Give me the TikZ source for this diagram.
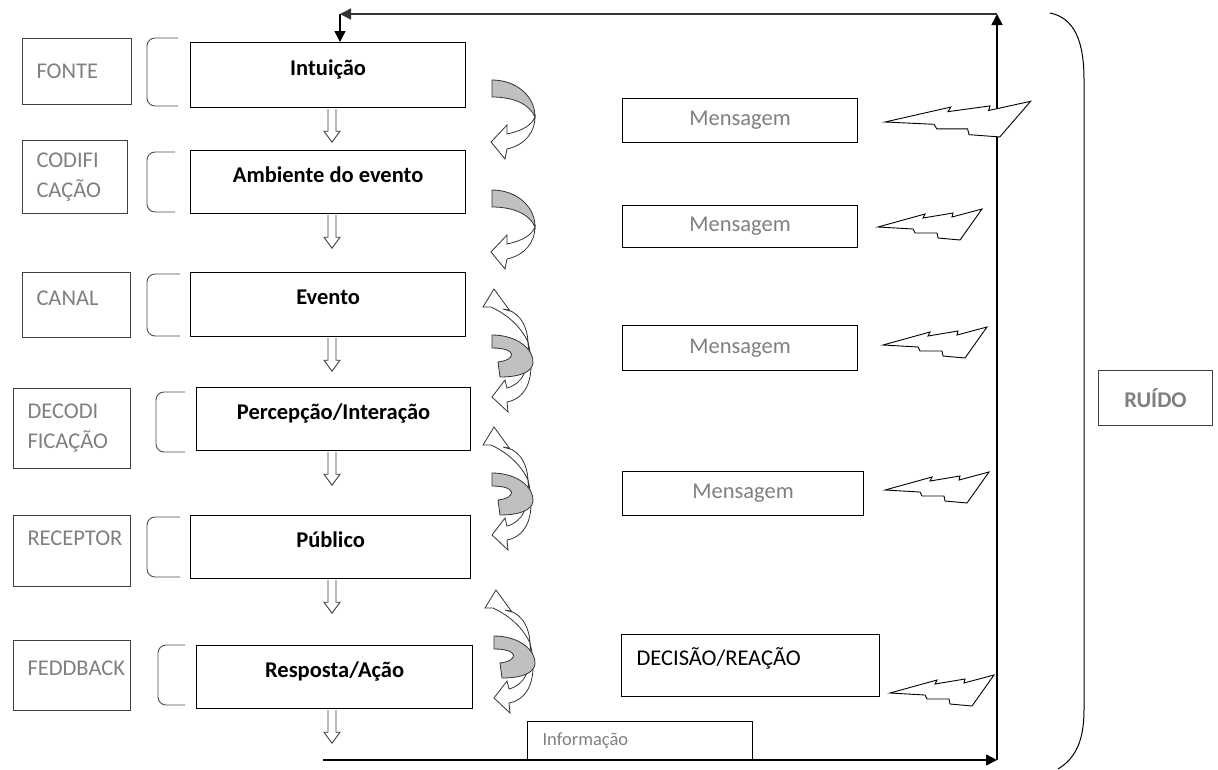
\documentclass[tikz,border=0pt]{standalone}
\usepackage{fontspec}
\setmainfont{Carlito}
\usetikzlibrary{arrows.meta}
\definecolor{tagtext}{RGB}{127,127,127}
\definecolor{bandgray}{RGB}{192,192,192}
\tikzset{
	every node/.style={font=\fontsize{22.5}{30}\selectfont},
	single/.style={text height=11pt, text depth=11pt},
	tagbox/.style={draw=black!75, line width=1pt, anchor=north west, inner xsep=14pt, inner ysep=0pt, align=left, text=tagtext},
	mainbox/.style={draw, line width=1.2pt, anchor=north west, inner sep=0pt, single, font=\fontsize{22.5}{30}\selectfont\bfseries},
	msgbox/.style={draw, line width=1.1pt, anchor=north west, inner sep=0pt, text=tagtext},
	brace/.style={draw=black!70, line width=0.9pt, rounded corners=8pt},
	hollow/.style={draw=black!75, line width=0.9pt, fill=white, line join=miter},
	sheet/.style={draw=black!80, line width=0.8pt, fill=white},
	band/.style={draw=black!80, line width=0.8pt, fill=bandgray},
	bolt/.style={draw, line width=0.9pt, fill=white, line join=miter},
	flow/.style={line width=1.5pt, -{Triangle[length=11pt,width=11pt]}}
}
\newcommand\flowdown[1]{\draw[hollow] ([yshift=-1pt]332,0 |- #1.south) ++(-4,0) -- ++(0,22) -- ++(-4,0) -- ++(8,11) -- ++(8,-11) -- ++(-4,0) -- ++(0,-22);}
\newcommand\swirlA[1]{\begin{scope}[shift={#1}]
	\draw[band] (12,10) .. controls (35,10) and (55,25) .. (55,47) .. controls (50,35) and (35,27) .. (12,27) -- cycle;
	\draw[sheet] (55,47) .. controls (55,62) and (45,75) .. (27,79) -- (25,89) -- (11,72) -- (27,55) -- (27,64) .. controls (42,61) and (52,55) .. (55,47) -- cycle;
\end{scope}}
\newcommand\swirlB[1]{\begin{scope}[shift={#1}]
	\draw[sheet] (48,62) .. controls (47,42) and (36,30) .. (23,29) -- (30,31) -- (14,9) -- (3,27) -- (11,27) .. controls (26,34) and (40,45) .. (48,62) -- cycle;
	\draw[sheet] (48,62) .. controls (50,90) and (42,104) .. (27,108) -- (25,100) -- (12,117) -- (28,132) -- (27,122) .. controls (48,118) and (56,95) .. (48,62) -- cycle;
	\draw[band] (12,55) .. controls (38,55) and (54,70) .. (53,83) .. controls (52,92) and (40,97) .. (20,97) -- (18,82) .. controls (36,80) and (38,68) .. (12,68) -- cycle;
\end{scope}}
\newcommand\bolt[2][]{\draw[bolt, shift={#2}, #1] (0,0) -- (47,-13) -- (45,-9) -- (75,-14) -- (74,-10) -- (104,-18) -- (82,13) -- (60,11) -- (59,6) -- (37,6) -- (35,2) -- cycle;}

\begin{document}
\begin{tikzpicture}[x=1pt,y=-1pt]
	\useasboundingbox (0,0) rectangle (1218,769);
	% left column
	\node[tagbox, text width=81pt, minimum height=66pt] (fonte) at (22,38) {FONTE};
	\node[tagbox, text width=77pt, minimum height=73pt] (codif) at (22,140) {CODIFI\\CAÇÃO};
	\node[tagbox, single, text width=80pt, minimum height=65pt] (canal) at (22,272) {CANAL};
	\node[tagbox, text width=89pt, minimum height=80pt] (decod) at (13,388) {DECODI\\FICAÇÃO};
	\node[tagbox, text height=11pt, text depth=23pt, text width=89pt, minimum height=71pt] (recep) at (13,515) {RECEPTOR};
	\node[tagbox, single, text width=89pt, minimum height=70pt] (feedb) at (13,640) {FEDDBACK};
	\draw[brace] (178,38) -- (147,38) -- (147,106) -- (178,106);
	\draw[brace] (175,152) -- (147,152) -- (147,212) -- (175,212);
	\draw[brace] (180,274) -- (147,274) -- (147,336) -- (180,336);
	\draw[brace] (185,392) -- (156,392) -- (156,452) -- (185,452);
	\draw[brace] (180,517) -- (147,517) -- (147,577) -- (180,577);
	\draw[brace] (185,645) -- (158,645) -- (158,705) -- (185,705);
	% steps
	\node[mainbox, minimum width=275pt, minimum height=65pt] (intu) at (190,42) {Intuição};
	\node[mainbox, minimum width=275pt, minimum height=63pt] (amb) at (190,150) {Ambiente do evento};
	\node[mainbox, minimum width=275pt, minimum height=64pt] (evt) at (190,272) {Evento};
	\node[mainbox, minimum width=274pt, minimum height=63pt] (perc) at (196,387) {Percepção/Interação};
	\node[mainbox, minimum width=280pt, minimum height=63pt] (pub) at (190,515) {Público};
	\node[mainbox, minimum width=276pt, minimum height=63pt] (resp) at (196,645) {Resposta/Ação};
	\foreach \b in {intu,amb,evt,perc,pub,resp} {\flowdown{\b}}
	% messages
	\node[msgbox, minimum width=235pt, minimum height=44pt] (msgA) at (622,98) {Mensagem};
	\node[msgbox, minimum width=235pt, minimum height=42pt] (msgB) at (622,205) {Mensagem};
	\node[msgbox, minimum width=235pt, minimum height=45pt] (msgC) at (622,325) {Mensagem};
	\node[msgbox, minimum width=241pt, minimum height=44pt] (msgD) at (622,471) {Mensagem};
	\node[msgbox, text=black, single, align=left, inner xsep=15pt, text width=228pt, minimum height=62pt] (dec) at (621,634) {DECISÃO/REAÇÃO};
	\node[msgbox, align=left, inner xsep=15pt, text width=195pt, minimum height=39pt, font=\fontsize{18.5}{22}\selectfont] (info) at (527,721) {Informação};
	\node[msgbox, line width=1pt, draw=black!75, minimum width=114pt, minimum height=55pt, font=\fontsize{22.5}{30}\selectfont\bfseries] (ruido) at (1098,370) {RUÍDO};
	% swirls
	\swirlA{(480,70)}
	\swirlA{(480,180)}
	\swirlB{(480,280)}
	\swirlB{(480,418)}
	\swirlB{(482,581)}
	% feedback loop
	\coordinate (fbstart) at (323,760);
	\coordinate (fbright) at (997,760);
	\coordinate (fbtop) at (997,14);
	\coordinate (fbleft) at (340,14);
	\draw[flow] (fbstart) -- (fbright);
	\draw[flow] (fbright) -- (fbtop);
	\draw[flow, draw=black!80] (fbtop) -- (fbleft);
	\draw[flow] (fbleft) -- (fbleft |- intu.north);
	% noise
	\bolt[xscale=1.4, yscale=1.15]{(885,122)}
	\bolt{(878,227)}
	\bolt{(883,345)}
	\bolt{(885,490)}
	\bolt{(890,693)}
	\draw[line width=1pt] (1050,13) .. controls (1074,18) and (1084,40) .. (1084,80) -- (1084,710) .. controls (1084,740) and (1076,758) .. (1058,769);
\end{tikzpicture}
\end{document}
